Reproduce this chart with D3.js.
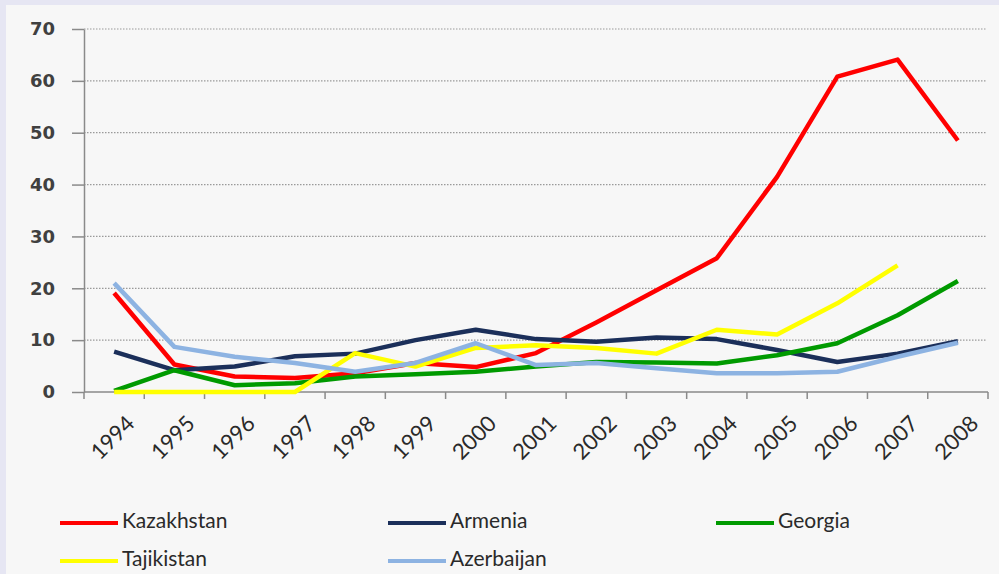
<!DOCTYPE html>
<html><head><meta charset="utf-8">
<script src="https://cdn.jsdelivr.net/npm/d3@7/dist/d3.min.js"></script>
<style>
html,body{margin:0;padding:0;background:#e6e6f3;}
svg{display:block;}
</style></head>
<body>
<svg id="chart" width="999" height="574"></svg>
<script>
const years = ["1994","1995","1996","1997","1998","1999","2000","2001","2002","2003","2004","2005","2006","2007","2008"];
const yTicks = [0,10,20,30,40,50,60,70];
const seriesNames = ["Kazakhstan","Armenia","Georgia","Tajikistan","Azerbaijan"];
const seriesColors = ["#ff0000","#1b2f5a","#009a00","#ffff00","#8db3e2"];
const kazakhstan = [19.1,5.3,3.0,2.7,3.6,5.6,4.8,7.5,13.4,19.6,25.8,41.5,60.8,64.1,48.5];
const armenia    = [7.8,4.2,4.9,6.9,7.4,10.0,12.0,10.2,9.7,10.5,10.2,8.1,5.8,7.4,9.8];
const georgia    = [0.2,4.2,1.3,1.7,3.0,3.4,3.9,4.9,5.8,5.7,5.5,7.1,9.4,14.8,21.4];
const tajikistan = [0,0,0,0,7.5,4.9,8.5,9.0,8.5,7.4,12.0,11.1,17.1,24.4,null];
const azerbaijan = [21.0,8.7,6.8,5.6,3.9,5.6,9.4,5.2,5.6,4.6,3.6,3.6,3.9,6.8,9.5];
const seriesValues = [kazakhstan, armenia, georgia, tajikistan, azerbaijan];

(function(){
const svg = d3.select("#chart");
svg.append("rect").attr("x",6).attr("y",5).attr("width",993).attr("height",569).attr("fill","#f7f7f7");

const mLeft = 84, mRight = 988, mTop = 29, mBottom = 392;
const x = d3.scaleBand().domain(years).range([mLeft,mRight]).padding(0);
const y = d3.scaleLinear().domain([0,70]).range([mBottom,mTop]);

svg.append("g").selectAll("line").data(yTicks.filter(d=>d>0)).join("line")
  .attr("x1",mLeft).attr("x2",mRight-1).attr("y1",d=>y(d)).attr("y2",d=>y(d))
  .attr("stroke","#9a9a9a").attr("stroke-width",1.2).attr("stroke-dasharray","1.5,1.5");

const yAxis = svg.append("g").attr("transform",`translate(${mLeft},0)`)
  .call(d3.axisLeft(y).tickValues(yTicks).tickSize(12).tickPadding(17).tickSizeOuter(0));
yAxis.select(".domain").attr("stroke","#8a8a8a").attr("stroke-width",1.5);
yAxis.selectAll(".tick line").attr("stroke","#8a8a8a").attr("stroke-width",1.5);
yAxis.selectAll("text").attr("font-family","DejaVu Sans").attr("font-size",18).attr("font-weight","bold").attr("fill","#404040");

svg.append("line").attr("x1",mLeft).attr("x2",mRight).attr("y1",mBottom).attr("y2",mBottom)
  .attr("stroke","#8a8a8a").attr("stroke-width",1.5);
const bounds = years.map(d=>x(d)).concat([x(years[years.length-1])+x.bandwidth()]);
svg.append("g").selectAll("line").data(bounds).join("line")
  .attr("x1",d=>d).attr("x2",d=>d).attr("y1",mBottom).attr("y2",mBottom+7)
  .attr("stroke","#8a8a8a").attr("stroke-width",1.5);

svg.append("g").selectAll("text").data(years).join("text")
  .attr("transform",d=>`translate(${x(d)+x.bandwidth()/2+18},${mBottom+29}) rotate(-45)`)
  .attr("text-anchor","end").attr("dominant-baseline","middle")
  .attr("font-family","Lato").attr("font-size",22).attr("fill","#2a2a2a")
  .text(d=>d);

const line = d3.line().defined(d=>d!=null)
  .x((d,i)=>x(years[i])+x.bandwidth()/2).y(d=>y(d));
svg.append("g").selectAll("path").data(seriesValues).join("path")
  .attr("d",d=>line(d)).attr("fill","none")
  .attr("stroke",(d,i)=>seriesColors[i]).attr("stroke-width",4.5)
  .attr("stroke-linejoin","round").attr("stroke-linecap","butt");

const legendPos = [[60,523],[388,523],[716,523],[60,561],[388,561]];
const lg = svg.append("g").selectAll("g").data(seriesNames).join("g")
  .attr("transform",(d,i)=>`translate(${legendPos[i][0]},${legendPos[i][1]})`);
lg.append("line").attr("x1",0).attr("x2",58).attr("y1",0).attr("y2",0)
  .attr("stroke",(d,i)=>seriesColors[i]).attr("stroke-width",4);
lg.append("text").attr("x",62).attr("y",0).attr("dominant-baseline","middle")
  .attr("font-family","Lato").attr("font-size",21).attr("fill","#2a2a2a").text(d=>d);
})();
</script>
</body></html>
